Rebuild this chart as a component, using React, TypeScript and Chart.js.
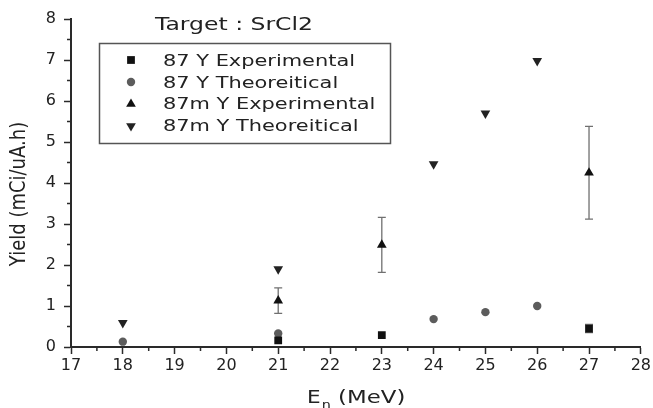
import React, { useEffect, useRef } from 'react';
import { Chart, registerables } from 'chart.js';

Chart.register(...registerables);

// ---- data ----
const seriesLabels = [
  '87 Y Experimental',
  '87 Y Theoreitical',
  '87m Y Experimental',
  '87m Y Theoreitical',
];
const energies87YExp = [21, 23, 27];
const yield87YExp = [0.16, 0.29, 0.45];
const err87YExp = [0, 0, 0.1];

const energies87YTh = [18, 21, 24, 25, 26];
const yield87YTh = [0.13, 0.33, 0.68, 0.85, 1.0];

const energies87mYExp = [21, 23, 27];
const yield87mYExp = [1.13, 2.49, 4.25];
const err87mYExp = [0.31, 0.67, 1.13];

const energies87mYTh = [18, 21, 24, 25, 26];
const yield87mYTh = [0.59, 1.9, 4.46, 5.7, 6.98];

const xMin = 17;
const xMax = 28;
const yMin = 0;
const yMax = 8;

const chartTitle = 'Target : SrCl2';
const yTitle = 'Yield (mCi/uA.h)';
const xTitleMain = 'E';
const xTitleSub = 'n';
const xTitleUnit = ' (MeV)';

// ---- styles ----
const FONT = "'DejaVu Sans', sans-serif";
const TEXT = '#222';
const AXIS = '#2a2a2a';

const markerStyles = [
  { style: 'rect', r: 5.5, rot: 0, color: '#111' },
  { style: 'circle', r: 4.2, rot: 0, color: '#5c5c5c' },
  { style: 'triangle', r: 5.6, rot: 0, color: '#111' },
  { style: 'triangle', r: 5.6, rot: 180, color: '#222' },
];

const toPoints = (xs: number[], ys: number[]) => xs.map((x, i) => ({ x, y: ys[i] }));

function drawMarker(ctx: CanvasRenderingContext2D, style: string, x: number, y: number, r: number, rot: number, color: string) {
  ctx.save();
  ctx.fillStyle = color;
  ctx.beginPath();
  if (style === 'rect') {
    const s = r * Math.SQRT1_2;
    ctx.rect(x - s, y - s, 2 * s, 2 * s);
  } else if (style === 'circle') {
    ctx.arc(x, y, r, 0, Math.PI * 2);
  } else {
    let rad = (rot * Math.PI) / 180;
    ctx.moveTo(x + Math.sin(rad) * r, y - Math.cos(rad) * r);
    rad += (2 * Math.PI) / 3;
    ctx.lineTo(x + Math.sin(rad) * r, y - Math.cos(rad) * r);
    rad += (2 * Math.PI) / 3;
    ctx.lineTo(x + Math.sin(rad) * r, y - Math.cos(rad) * r);
    ctx.closePath();
  }
  ctx.fill();
  ctx.restore();
}

function stretchText(ctx: CanvasRenderingContext2D, text: string, x: number, y: number, font: string, sx: number) {
  ctx.save();
  ctx.font = font;
  ctx.fillStyle = TEXT;
  ctx.textAlign = 'left';
  ctx.textBaseline = 'alphabetic';
  const w = ctx.measureText(text).width * sx;
  ctx.translate(x, y);
  ctx.scale(sx, 1);
  ctx.fillText(text, 0, 0);
  ctx.restore();
  return w;
}

const errorSeries = [
  { xs: energies87YExp, ys: yield87YExp, errs: err87YExp },
  { xs: energies87mYExp, ys: yield87mYExp, errs: err87mYExp },
];

const decorPlugin = {
  id: 'decor',
  beforeDatasetsDraw(chart: any) {
    const { ctx, scales } = chart;
    const x = scales.x;
    const y = scales.y;
    ctx.save();
    ctx.strokeStyle = '#707070';
    ctx.lineWidth = 1.3;
    errorSeries.forEach(({ xs, ys, errs }) => {
      xs.forEach((xv, i) => {
        const e = errs[i];
        if (!e) return;
        const px = x.getPixelForValue(xv);
        const top = y.getPixelForValue(ys[i] + e);
        const bot = y.getPixelForValue(ys[i] - e);
        ctx.beginPath();
        ctx.moveTo(px, top);
        ctx.lineTo(px, bot);
        ctx.moveTo(px - 4, top);
        ctx.lineTo(px + 4, top);
        ctx.moveTo(px - 4, bot);
        ctx.lineTo(px + 4, bot);
        ctx.stroke();
      });
    });
    ctx.restore();
  },
  afterDraw(chart: any) {
    const { ctx, scales, chartArea } = chart;
    const x = scales.x;
    const y = scales.y;
    // minor ticks
    ctx.save();
    ctx.strokeStyle = AXIS;
    ctx.lineWidth = 1.5;
    ctx.beginPath();
    for (let v = xMin + 0.5; v < xMax; v += 1) {
      const px = x.getPixelForValue(v);
      ctx.moveTo(px, chartArea.bottom);
      ctx.lineTo(px, chartArea.bottom + 4);
    }
    for (let v = yMin + 0.5; v < yMax; v += 1) {
      const py = y.getPixelForValue(v);
      ctx.moveTo(chartArea.left - 4, py);
      ctx.lineTo(chartArea.left, py);
    }
    ctx.stroke();
    ctx.restore();

    // title
    ctx.save();
    ctx.font = `18px ${FONT}`;
    const tw = ctx.measureText(chartTitle).width;
    ctx.restore();
    stretchText(ctx, chartTitle, 155, 30, `18px ${FONT}`, 158 / tw);

    // legend
    ctx.save();
    ctx.strokeStyle = '#555';
    ctx.lineWidth = 1.5;
    ctx.strokeRect(99.5, 43.5, 291, 100);
    ctx.restore();
    const legFont = `16.5px ${FONT}`;
    ctx.save();
    ctx.font = legFont;
    const lw = ctx.measureText(seriesLabels[0]).width;
    ctx.restore();
    const lsx = 192 / lw;
    const baselines = [66, 87.7, 109.3, 131];
    const markerYs = [60, 82, 104, 126];
    seriesLabels.forEach((lab, i) => {
      const m = markerStyles[i];
      drawMarker(ctx, m.style, 131, markerYs[i], m.r, m.rot, m.color);
      stretchText(ctx, lab, 163, baselines[i], legFont, lsx);
    });

    // x title
    let cx = 307;
    cx += stretchText(ctx, xTitleMain, cx, 403, `18px ${FONT}`, 1.2);
    cx += 1;
    cx += stretchText(ctx, xTitleSub, cx, 409, `12px ${FONT}`, 1.2);
    stretchText(ctx, xTitleUnit, cx, 403, `18px ${FONT}`, 1.27);

    // y title
    ctx.save();
    ctx.font = `18px ${FONT}`;
    ctx.fillStyle = TEXT;
    ctx.textAlign = 'center';
    ctx.textBaseline = 'alphabetic';
    ctx.translate(25, 194);
    ctx.rotate(-Math.PI / 2);
    ctx.scale(1, 1.2);
    ctx.fillText(yTitle, 0, 0);
    ctx.restore();
  },
};

export default function App() {
  const ref = useRef<HTMLCanvasElement>(null);
  useEffect(() => {
    document.body.style.margin = '0';
    const canvas = ref.current!;
    const ds = [
      toPoints(energies87YExp, yield87YExp),
      toPoints(energies87YTh, yield87YTh),
      toPoints(energies87mYExp, yield87mYExp),
      toPoints(energies87mYTh, yield87mYTh),
    ];
    const chart = new Chart(canvas, {
      type: 'scatter',
      data: {
        datasets: ds.map((data, i) => ({
          label: seriesLabels[i],
          data,
          pointStyle: markerStyles[i].style as any,
          pointRadius: markerStyles[i].r,
          pointHoverRadius: markerStyles[i].r,
          pointRotation: markerStyles[i].rot,
          backgroundColor: markerStyles[i].color,
          borderColor: markerStyles[i].color,
          borderWidth: 0,
          showLine: false,
        })),
      },
      options: {
        animation: false,
        responsive: true,
        maintainAspectRatio: false,
        devicePixelRatio: 1,
        layout: { padding: { top: 19, right: 11, left: 0, bottom: 0 } },
        plugins: {
          legend: { display: false },
          tooltip: { enabled: false },
          title: { display: false },
        },
        scales: {
          x: {
            type: 'linear',
            min: xMin,
            max: xMax,
            afterFit: (s: any) => {
              s.height = 61;
            },
            ticks: {
              stepSize: 1,
              autoSkip: false,
              maxRotation: 0,
              padding: 2,
              color: TEXT,
              font: { family: FONT, size: 16 },
            },
            grid: {
              drawOnChartArea: false,
              drawTicks: true,
              tickLength: 7,
              tickColor: AXIS,
              tickWidth: 1.5,
            },
            border: { display: true, color: AXIS, width: 2 },
          },
          y: {
            type: 'linear',
            min: yMin,
            max: yMax,
            afterFit: (s: any) => {
              s.width = 71;
            },
            ticks: {
              stepSize: 1,
              autoSkip: false,
              padding: 8,
              color: TEXT,
              font: { family: FONT, size: 16 },
            },
            grid: {
              drawOnChartArea: false,
              drawTicks: true,
              tickLength: 7,
              tickColor: AXIS,
              tickWidth: 1.5,
            },
            border: { display: true, color: AXIS, width: 2 },
          },
        },
      },
      plugins: [decorPlugin],
    } as any);
    return () => chart.destroy();
  }, []);
  return (
    <div style={{ width: 653, height: 408, position: 'relative' }}>
      <canvas ref={ref} />
    </div>
  );
}
